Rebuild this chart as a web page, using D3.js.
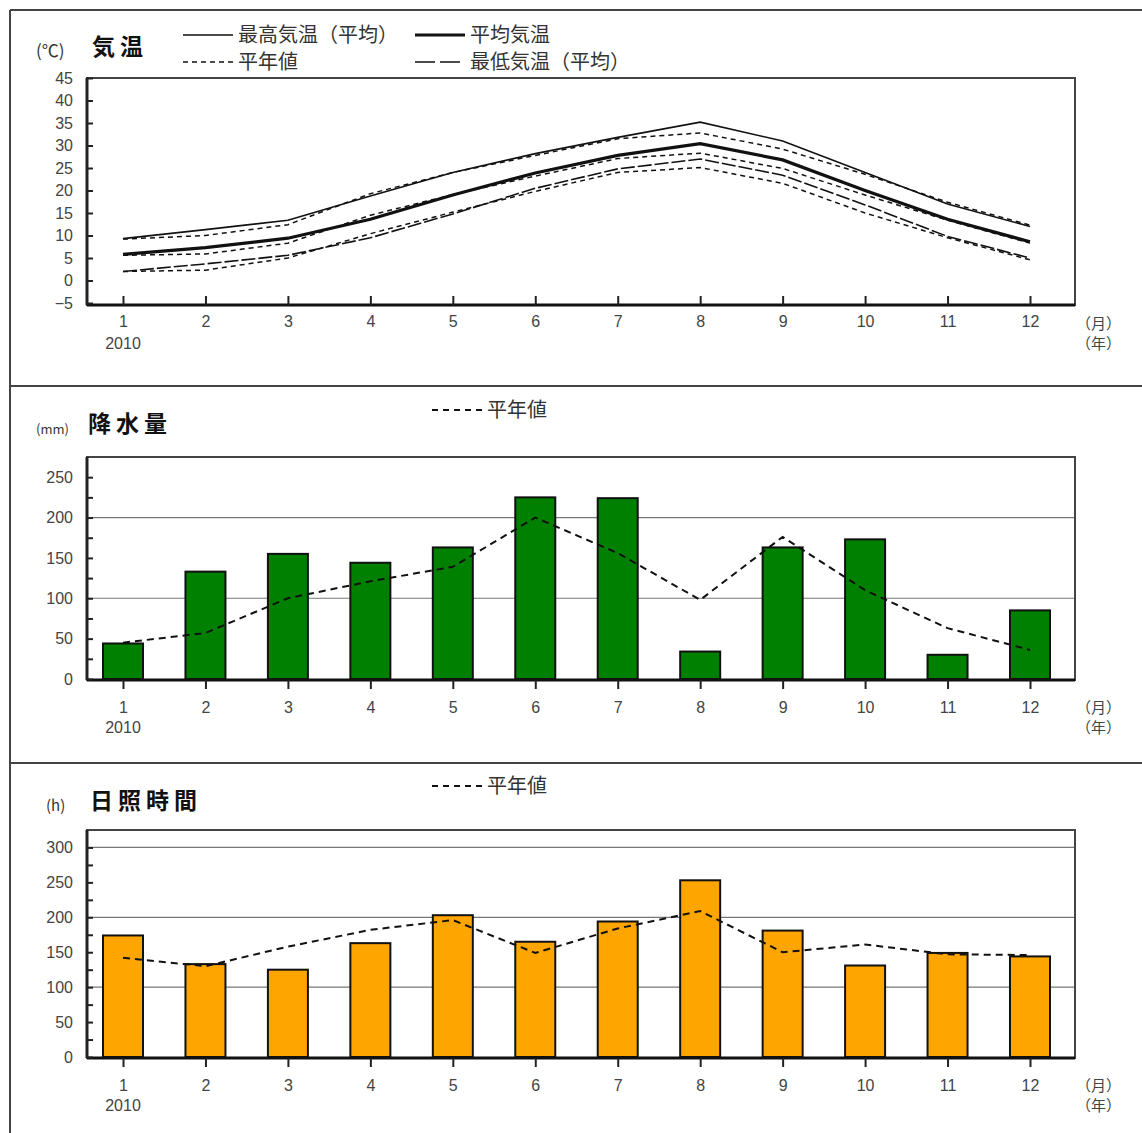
<!DOCTYPE html>
<html>
<head>
<meta charset="utf-8">
<script src="https://cdn.jsdelivr.net/npm/d3@7"></script>
<style>
body { margin: 0; background: #fff; }
text { font-family: "Noto Sans CJK JP", "Liberation Sans", sans-serif; }
.tick text { font-family: "Liberation Sans", Arial, sans-serif; font-size: 16px; fill: #444; }
</style>
</head>
<body>
<script>
// data
var months = [1, 2, 3, 4, 5, 6, 7, 8, 9, 10, 11, 12];

var maxTemp  = [9.3, 11.3, 13.4, 18.8, 24.0, 28.2, 31.8, 35.2, 31.0, 24.0, 17.0, 12.0];
var maxNorm  = [9.2, 10.0, 12.4, 19.3, 24.0, 27.8, 31.5, 32.8, 29.2, 23.6, 17.4, 12.3];
var meanTemp = [5.8, 7.3, 9.4, 13.6, 19.0, 23.9, 27.8, 30.4, 26.8, 20.0, 13.6, 8.6];
var meanNorm = [5.6, 5.9, 8.3, 14.5, 19.1, 23.2, 27.1, 28.3, 24.9, 19.0, 13.4, 8.3];
var minTemp  = [2.0, 3.7, 5.6, 9.5, 14.8, 20.5, 24.8, 27.0, 23.4, 16.8, 9.8, 5.0];
var minNorm  = [2.0, 2.3, 5.0, 10.4, 15.2, 19.8, 24.0, 25.1, 21.6, 15.0, 9.5, 4.6];

var rain     = [44, 133, 155, 144, 163, 225, 224, 34, 163, 173, 30, 85];
var rainNorm = [45, 57, 100, 121, 139, 200, 156, 98, 176, 110, 63, 36];

var sun      = [174, 133, 125, 163, 203, 165, 194, 253, 181, 131, 149, 144];
var sunNorm  = [142, 130, 158, 182, 196, 149, 184, 209, 150, 161, 147, 146];

var tempTicks = d3.range(-5, 46, 5);
var rainTicks = [0, 50, 100, 150, 200, 250];
var sunTicks  = [0, 50, 100, 150, 200, 250, 300];

var W = 1142, H = 1133;
var left = 87, right = 1075;

var svg = d3.select("body").append("svg")
    .attr("width", W)
    .attr("height", H);

// outer frame
var frame = svg.append("g")
    .attr("stroke", "#444")
    .attr("stroke-width", 2);
frame.append("line").attr("x1", 10).attr("y1", 10).attr("x2", 10).attr("y2", H);
[10, 386, 763].forEach(function(y) {
    frame.append("line").attr("x1", 10).attr("y1", y).attr("x2", W).attr("y2", y);
});

var x = d3.scaleLinear().domain([1, 12]).range([123, 1030]);

var monthLabels = function(g, y0) {
    g.append("text")
        .attr("x", x(1)).attr("y", y0 + 20)
        .attr("text-anchor", "middle")
        .style("font-family", "Liberation Sans, Arial, sans-serif")
        .style("font-size", "16px").attr("fill", "#444")
        .text("2010");
    g.append("text")
        .attr("x", 1076).attr("y", y0)
        .style("font-size", "15px").attr("fill", "#444")
        .text("（月）");
    g.append("text")
        .attr("x", 1076).attr("y", y0 + 20)
        .style("font-size", "15px").attr("fill", "#444")
        .text("（年）");
};

var title = function(unit, unitX, unitSize, name, nameX, y) {
    svg.append("text")
        .attr("x", unitX).attr("y", y + 2)
        .style("font-size", unitSize + "px").attr("fill", "#333")
        .text(unit);
    svg.append("text")
        .attr("x", nameX).attr("y", y)
        .style("font-size", "23px")
        .style("font-weight", "bold")
        .style("letter-spacing", "5px")
        .attr("fill", "#111")
        .text(name);
};

var legendItem = function(x0, y, dash, width, label) {
    svg.append("line")
        .attr("x1", x0).attr("x2", x0 + 50)
        .attr("y1", y - 7).attr("y2", y - 7)
        .attr("stroke", "#111")
        .attr("stroke-width", width)
        .attr("stroke-dasharray", dash);
    svg.append("text")
        .attr("x", x0 + 55).attr("y", y)
        .style("font-size", "20px").attr("fill", "#333")
        .text(label);
};

var box = function(top, bottom) {
    svg.append("rect")
        .attr("x", left).attr("y", top)
        .attr("width", right - left).attr("height", bottom - top)
        .attr("fill", "none")
        .attr("stroke", "#444")
        .attr("stroke-width", 2);
    svg.append("line")
        .attr("x1", left).attr("x2", right)
        .attr("y1", bottom).attr("y2", bottom)
        .attr("stroke", "#111").attr("stroke-width", 3);
    svg.append("line")
        .attr("x1", left).attr("x2", left)
        .attr("y1", top).attr("y2", bottom)
        .attr("stroke", "#222").attr("stroke-width", 3);
};

// ---- panel 1: temperature
var yT = d3.scaleLinear().domain([-5, 45]).range([303, 78]);

title("(℃)", 36, 17, "気温", 92, 55);
legendItem(183, 42, "none", 1.5, "最高気温（平均）");
legendItem(415, 42, "none", 3.2, "平均気温");
legendItem(183, 69, "5,4", 1.5, "平年値");
legendItem(415, 69, "20,5", 1.5, "最低気温（平均）");

box(78, 305);

svg.append("g")
    .attr("transform", "translate(" + left + ",0)")
    .call(d3.axisLeft(yT).tickValues(tempTicks).tickSize(-6).tickPadding(14))
    .call(function(g) { g.select(".domain").remove(); })
    .call(function(g) { g.selectAll(".tick line").attr("stroke", "#222").attr("stroke-width", 2); });

svg.append("g")
    .attr("transform", "translate(0,305)")
    .call(d3.axisBottom(x).tickValues(months).tickSize(-9).tickPadding(11))
    .call(function(g) { g.select(".domain").remove(); })
    .call(function(g) { g.selectAll(".tick line").attr("stroke", "#222").attr("stroke-width", 2); });

monthLabels(svg.append("g"), 329);

var tempLine = d3.line()
    .x(function(d, i) { return x(months[i]); })
    .y(function(d) { return yT(d); });

var tempSeries = [
    { values: maxNorm,  width: 1.5, dash: "5,4" },
    { values: meanNorm, width: 1.5, dash: "5,4" },
    { values: minNorm,  width: 1.5, dash: "5,4" },
    { values: minTemp,  width: 1.6, dash: "14,3" },
    { values: maxTemp,  width: 1.6, dash: "none" },
    { values: meanTemp, width: 3.2, dash: "none" }
];

svg.append("g").selectAll("path")
    .data(tempSeries).enter().append("path")
    .attr("d", function(d) { return tempLine(d.values); })
    .attr("fill", "none")
    .attr("stroke", "#111")
    .attr("stroke-width", function(d) { return d.width; })
    .attr("stroke-dasharray", function(d) { return d.dash; });

// ---- bar panels
var barPanel = function(opt) {
    var y = d3.scaleLinear().domain([0, opt.max]).range([opt.bottom, opt.top]);

    title(opt.unit, opt.unitX, opt.unitSize, opt.name, opt.nameX, opt.titleY);
    legendItem(432, opt.legendY, "6,5", 2, "平年値");

    // gridlines
    svg.append("g").selectAll("line")
        .data(opt.grid).enter().append("line")
        .attr("x1", left).attr("x2", right)
        .attr("y1", function(d) { return y(d); })
        .attr("y2", function(d) { return y(d); })
        .attr("stroke", "#777")
        .attr("stroke-width", 1.2);

    svg.append("g").selectAll("rect")
        .data(opt.values).enter().append("rect")
        .attr("x", function(d, i) { return x(months[i]) - 20; })
        .attr("y", function(d) { return y(d); })
        .attr("width", 40)
        .attr("height", function(d) { return y(0) - y(d); })
        .attr("fill", opt.color)
        .attr("stroke", "#111")
        .attr("stroke-width", 2);

    box(y(opt.max), y(0) + 1);

    svg.append("g")
        .attr("transform", "translate(" + left + ",0)")
        .call(d3.axisLeft(y).tickValues(d3.range(0, opt.max, 25)).tickSize(-6).tickPadding(14)
            .tickFormat(function(d) { return opt.ticks.indexOf(d) >= 0 ? d : ""; }))
        .call(function(g) { g.select(".domain").remove(); })
        .call(function(g) { g.selectAll(".tick line").attr("stroke", "#222").attr("stroke-width", 2); });

    svg.append("g")
        .attr("transform", "translate(0," + (y(0) + 1) + ")")
        .call(d3.axisBottom(x).tickValues(months).tickSize(9).tickPadding(13))
        .call(function(g) { g.select(".domain").remove(); })
        .call(function(g) { g.selectAll(".tick line").attr("stroke", "#222").attr("stroke-width", 2); });

    monthLabels(svg.append("g"), y(0) + 34);

    var normLine = d3.line()
        .x(function(d, i) { return x(months[i]); })
        .y(function(d) { return y(d); });

    svg.append("path")
        .attr("d", normLine(opt.norm))
        .attr("fill", "none")
        .attr("stroke", "#111")
        .attr("stroke-width", 2)
        .attr("stroke-dasharray", "7,5");
};

barPanel({
    values: rain, norm: rainNorm, color: "#008000",
    max: 275, top: 457, bottom: 679,
    grid: [100, 200], ticks: rainTicks,
    unit: "(mm)", unitX: 36, unitSize: 13, name: "降水量", nameX: 88, titleY: 432,
    legendY: 417
});

barPanel({
    values: sun, norm: sunNorm, color: "#FFA500",
    max: 325, top: 830, bottom: 1057,
    grid: [100, 200, 300], ticks: sunTicks,
    unit: "(h)", unitX: 46, unitSize: 15, name: "日照時間", nameX: 90, titleY: 809,
    legendY: 793
});
</script>
</body>
</html>
